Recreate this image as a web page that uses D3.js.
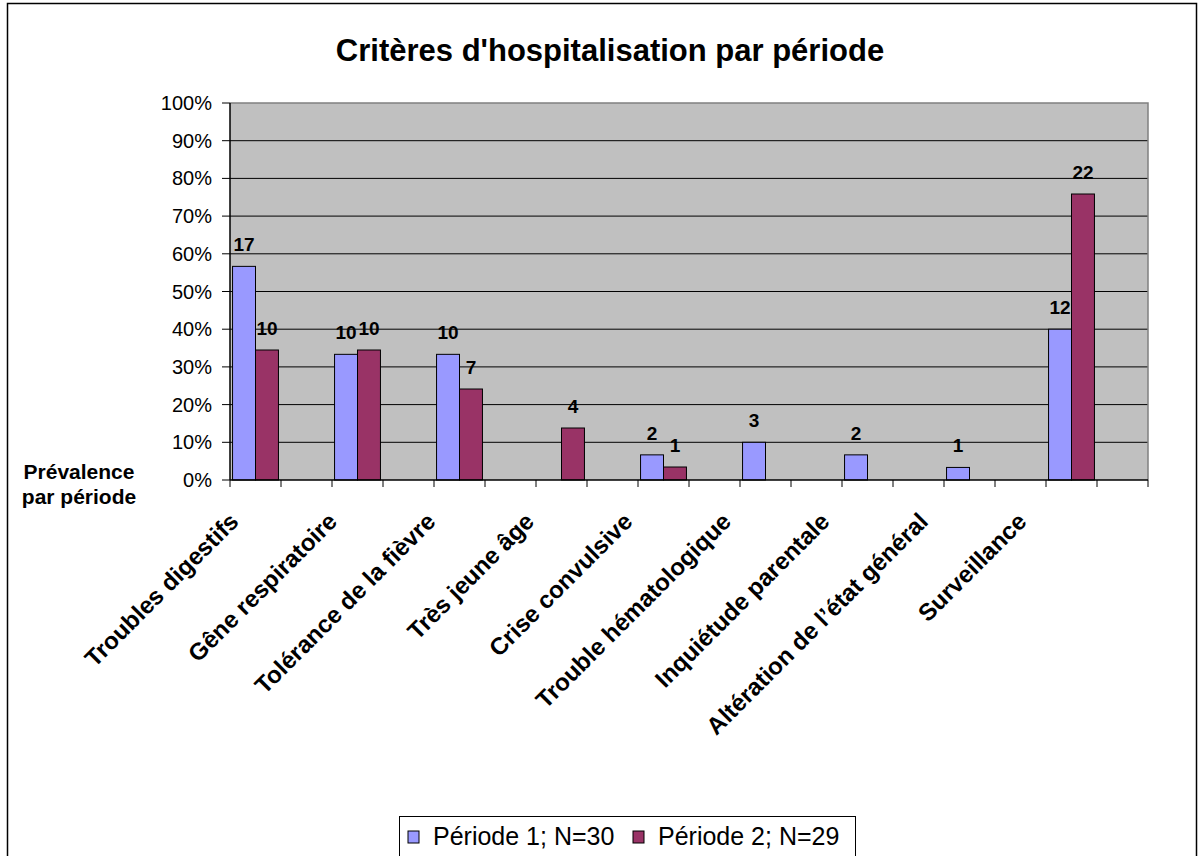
<!doctype html>
<html lang="fr">
<head>
<meta charset="utf-8">
<title>Critères d'hospitalisation par période</title>
<script src="https://cdn.jsdelivr.net/npm/d3@7"></script>
<style>
  body { margin: 0; background: #fff; }
  svg { font-family: Arial, "Liberation Sans", sans-serif; display: block; }
</style>
</head>
<body>
<svg id="chart" width="1200" height="856"></svg>
<script>
// donnees (effectifs par critere)
var categories = ["Troubles digestifs", "Gêne respiratoire", "Tolérance de la fièvre", "Très jeune âge",
  "Crise convulsive", "Trouble hématologique", "Inquiétude parentale", "Altération de l\u2019état général", "Surveillance"];
var periode1 = [17, 10, 10, 0, 2, 3, 2, 1, 12];
var periode2 = [10, 10, 7, 4, 1, 0, 0, 0, 22];
var effectifs = [30, 29];
var seriesNames = ["Période 1; N=30", "Période 2; N=29"];
var yTicks = [0, 0.1, 0.2, 0.3, 0.4, 0.5, 0.6, 0.7, 0.8, 0.9, 1];

var colors = ["#9999ff", "#993366"];

var svg = d3.select("#chart");

// cadre exterieur
svg.append("rect")
  .attr("x", 7.5).attr("y", 3.5)
  .attr("width", 1189).attr("height", 870)
  .attr("fill", "none").attr("stroke", "#000").attr("stroke-width", 1.5);

var plot = { left: 230, right: 1148, top: 103, bottom: 480 };

var x = d3.scaleBand().domain(categories).range([plot.left, plot.right]).padding(0);
var y = d3.scaleLinear().domain([0, 1]).range([plot.bottom, plot.top]);
var slot = x.bandwidth() / 2;
var barW = slot * 0.45;

// fond gris
svg.append("rect")
  .attr("x", plot.left).attr("y", plot.top)
  .attr("width", plot.right - plot.left).attr("height", plot.bottom - plot.top)
  .attr("fill", "#c0c0c0");

// quadrillage
svg.selectAll("line.grid")
  .data(yTicks.filter(d => d > 0 && d < 1))
  .join("line")
  .attr("class", "grid")
  .attr("x1", plot.left).attr("x2", plot.right)
  .attr("y1", d => y(d)).attr("y2", d => y(d))
  .attr("stroke", "#000").attr("stroke-width", 1);

// bord haut et droit gris
svg.append("path")
  .attr("d", "M" + plot.left + "," + plot.top + "H" + plot.right + "V" + plot.bottom)
  .attr("fill", "none").attr("stroke", "#808080").attr("stroke-width", 1.5);

// barres
var rows = categories.map((c, i) => ({ cat: c, vals: [periode1[i], periode2[i]] }));

rows.forEach(function (r) {
  r.vals.forEach(function (v, s) {
    if (v === 0) return;
    var pct = v / effectifs[s];
    var bx = x(r.cat) + slot * 0.05 + s * barW;
    svg.append("rect")
      .attr("x", bx).attr("y", y(pct))
      .attr("width", barW).attr("height", y(0) - y(pct))
      .attr("fill", colors[s]).attr("stroke", "#000").attr("stroke-width", 1);
    svg.append("text")
      .attr("x", bx + barW / 2).attr("y", y(pct) - 15)
      .attr("text-anchor", "middle")
      .attr("font-size", 19).attr("font-weight", "bold")
      .text(v);
  });
});

// axes
svg.append("line")
  .attr("x1", plot.left).attr("x2", plot.left)
  .attr("y1", plot.top).attr("y2", plot.bottom)
  .attr("stroke", "#000").attr("stroke-width", 1.5);
svg.append("line")
  .attr("x1", plot.left).attr("x2", plot.right)
  .attr("y1", plot.bottom).attr("y2", plot.bottom)
  .attr("stroke", "#000").attr("stroke-width", 1.5);

// graduations y
svg.selectAll("line.ytick")
  .data(yTicks)
  .join("line")
  .attr("class", "ytick")
  .attr("x1", plot.left - 8).attr("x2", plot.left)
  .attr("y1", d => y(d)).attr("y2", d => y(d))
  .attr("stroke", "#000");

svg.selectAll("text.ylab")
  .data(yTicks)
  .join("text")
  .attr("class", "ylab")
  .attr("x", plot.left - 18)
  .attr("y", d => y(d) + 7)
  .attr("text-anchor", "end")
  .attr("font-size", 20)
  .text(d => d3.format(".0%")(d));

// graduations x (deux par categorie)
var xTicks = d3.range(0, categories.length * 2 + 1).map(i => plot.left + i * slot);
svg.selectAll("line.xtick")
  .data(xTicks)
  .join("line")
  .attr("class", "xtick")
  .attr("x1", d => d).attr("x2", d => d)
  .attr("y1", plot.bottom).attr("y2", plot.bottom + 7)
  .attr("stroke", "#000");

// etiquettes de categories
var labelShift = d3.scaleLinear().domain([0, categories.length - 1]).range([10, -18]);
svg.selectAll("text.xlab")
  .data(categories)
  .join("text")
  .attr("class", "xlab")
  .attr("transform", (d, i) => "translate(" + (x(d) + labelShift(i)) + "," + 523 + ") rotate(-45)")
  .attr("text-anchor", "end")
  .attr("font-size", 24).attr("font-weight", "bold")
  .text(d => d);

// titre
svg.append("text")
  .attr("x", 610).attr("y", 61)
  .attr("text-anchor", "middle")
  .attr("font-size", 31).attr("font-weight", "bold")
  .text("Critères d'hospitalisation par période");

// titre axe y
svg.append("text")
  .attr("x", 79).attr("y", 479)
  .attr("text-anchor", "middle")
  .attr("font-size", 21).attr("font-weight", "bold")
  .selectAll("tspan")
  .data(["Prévalence", "par période"])
  .join("tspan")
  .attr("x", 79)
  .attr("dy", (d, i) => i === 0 ? 0 : 25)
  .text(d => d);

// legende
var legend = svg.append("g");
legend.append("rect")
  .attr("x", 399.5).attr("y", 816.5)
  .attr("width", 456).attr("height", 60)
  .attr("fill", "#fff").attr("stroke", "#000").attr("stroke-width", 1);

var legendX = [408, 633];
seriesNames.forEach(function (name, s) {
  legend.append("rect")
    .attr("x", legendX[s]).attr("y", 831)
    .attr("width", 11).attr("height", 12)
    .attr("fill", colors[s]).attr("stroke", "#000").attr("stroke-width", 1);
  legend.append("text")
    .attr("x", legendX[s] + 25).attr("y", 845)
    .attr("font-size", 25)
    .text(name);
});
</script>
</body>
</html>
